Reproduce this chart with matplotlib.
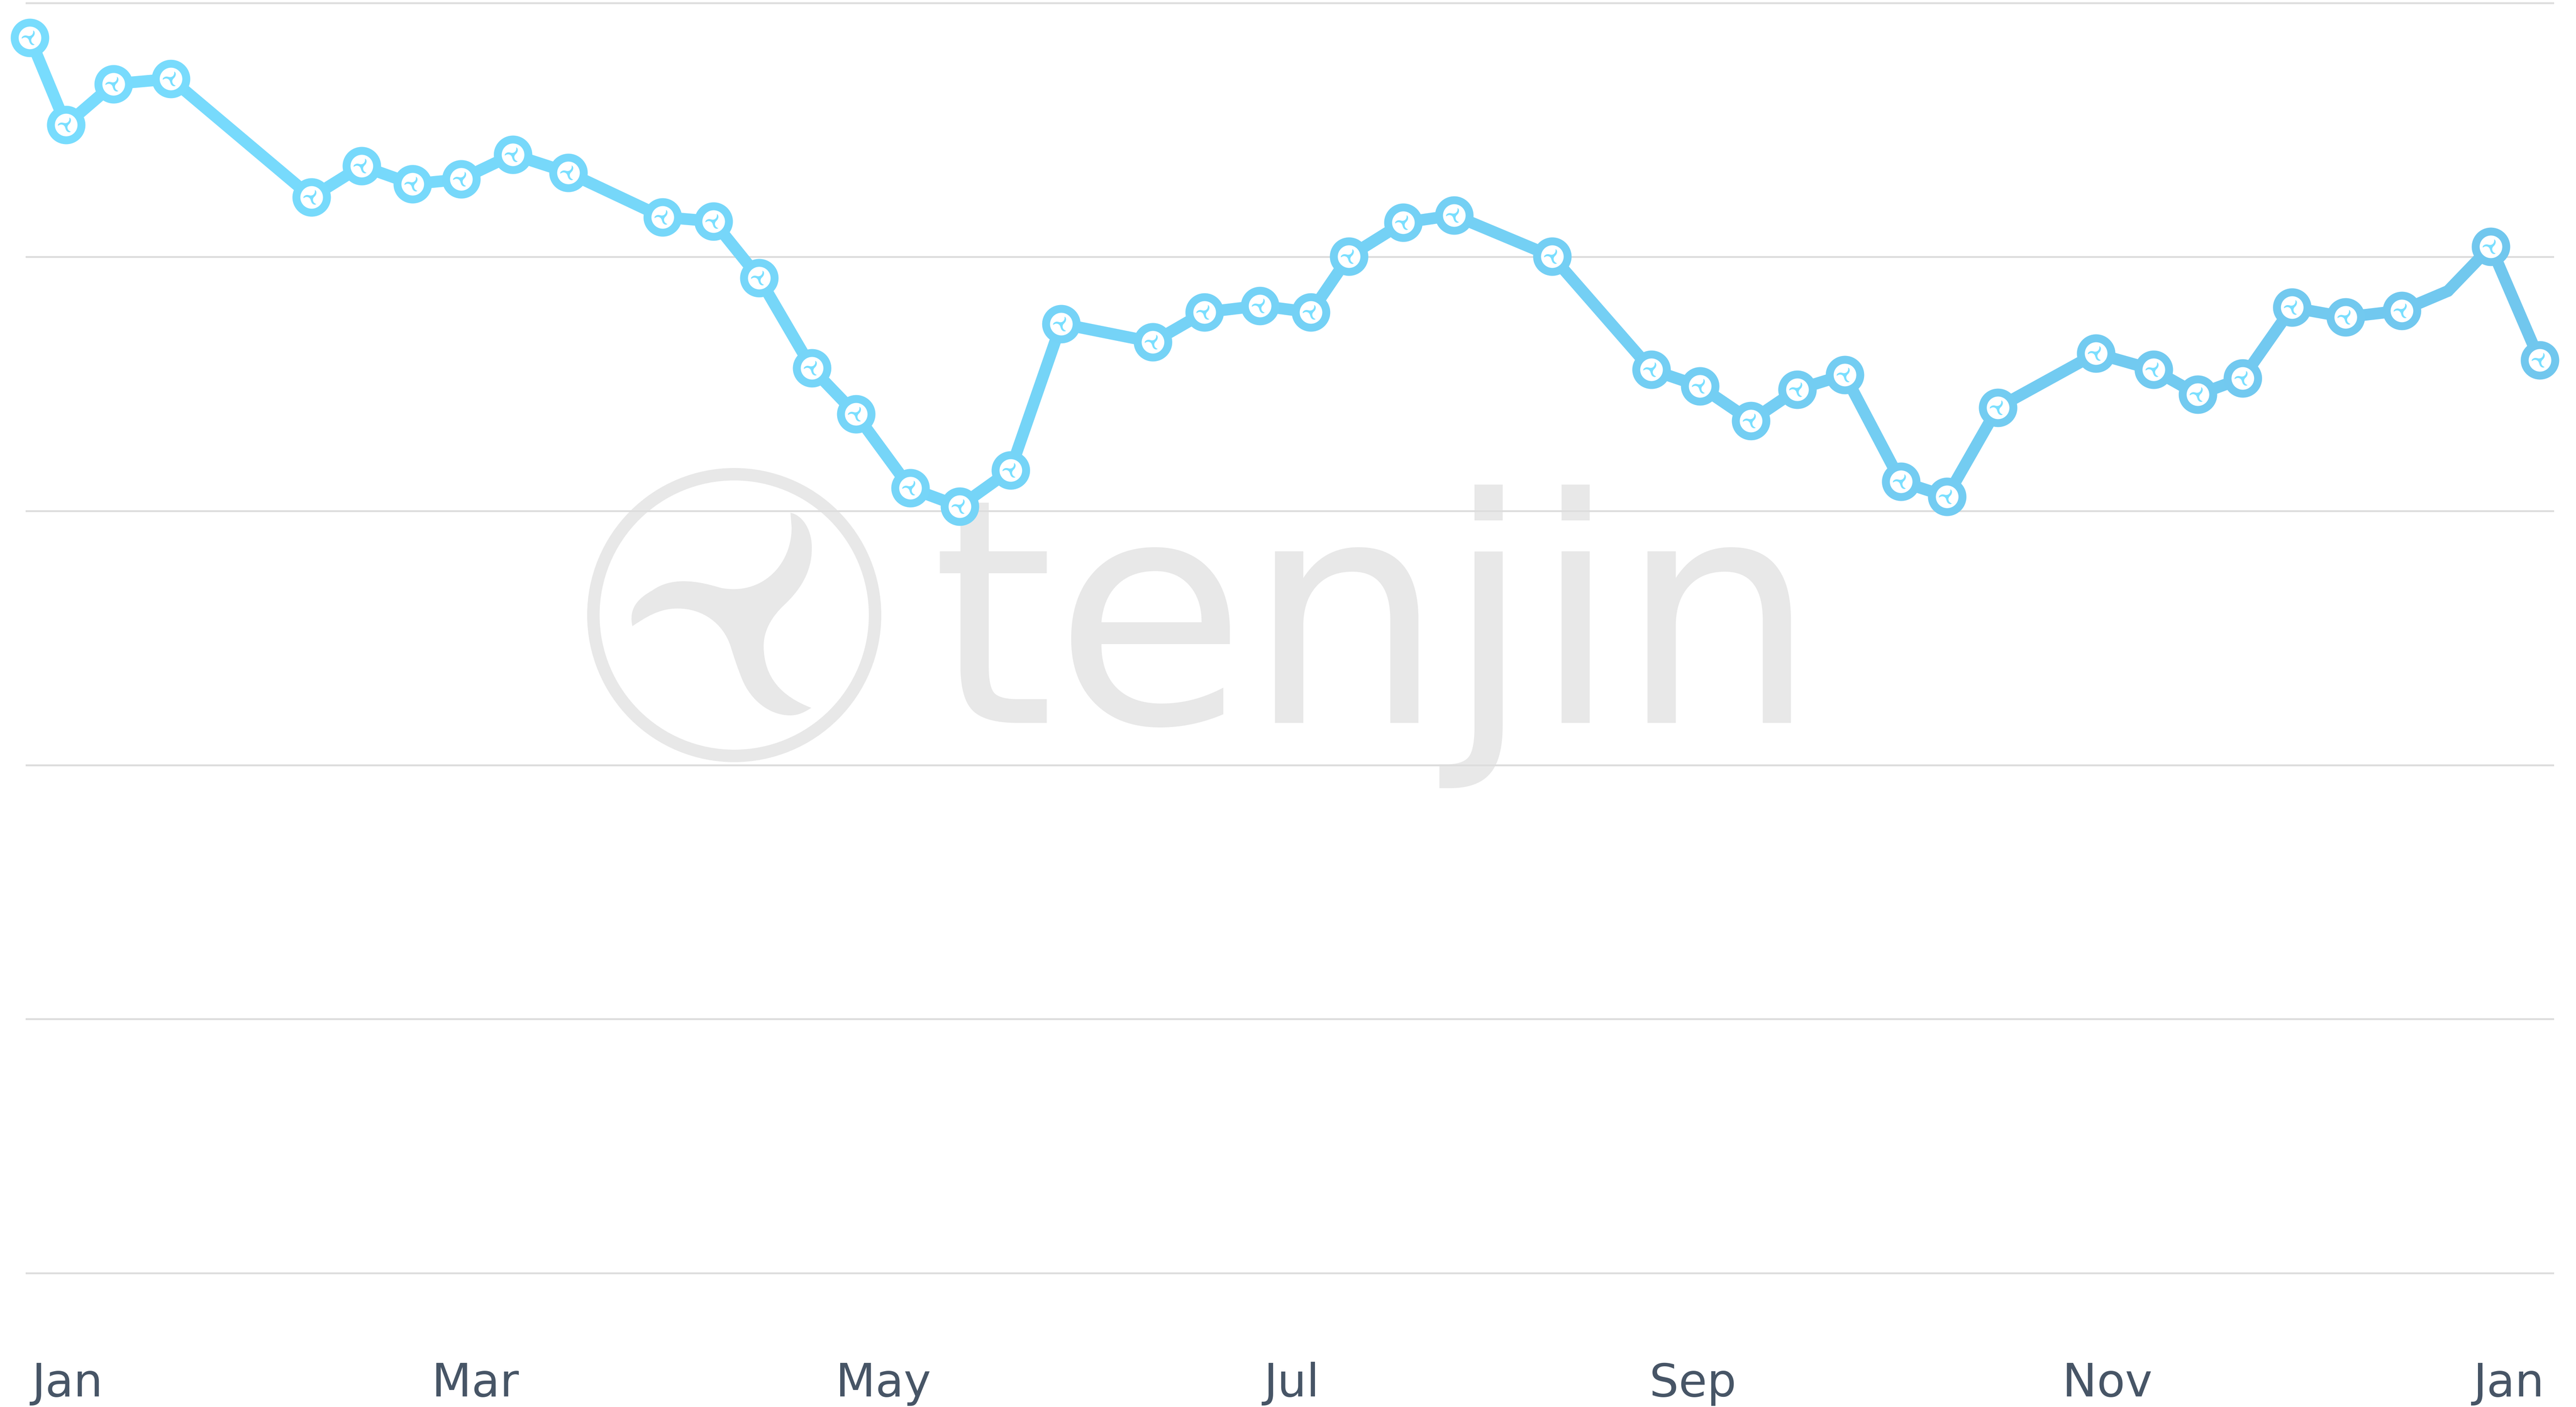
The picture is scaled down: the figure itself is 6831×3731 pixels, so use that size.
import matplotlib
matplotlib.use("Agg")
import matplotlib.pyplot as plt
import numpy as np
from matplotlib.path import Path
from matplotlib.patches import PathPatch, Circle
from matplotlib.transforms import Affine2D
from matplotlib.colors import to_rgb

# ---- data -----
days = [-5.6, -0.2, 6.9, 15.5, 36.5, 44.0, 51.6, 58.9, 66.6, 74.9, 89.0, 96.6, 103.4, 111.3, 117.9,
        126.0, 133.4, 141.0, 148.6, 162.3, 170.0, 178.3, 185.9, 191.6, 199.7, 207.3, 222.0, 236.8,
        244.1, 251.7, 258.6, 265.7, 274.1, 281.0, 288.6, 303.3, 311.9, 318.5, 325.2, 332.6, 340.6,
        349.0, 355.9, 362.3, 369.6]
values = [4.863, 4.520, 4.681, 4.701, 4.235, 4.358, 4.287, 4.306, 4.403, 4.332, 4.157, 4.140, 3.918,
          3.562, 3.381, 3.090, 3.018, 3.161, 3.737, 3.665, 3.782, 3.808, 3.782, 4.002, 4.135, 4.164,
          4.002, 3.556, 3.491, 3.355, 3.478, 3.536, 3.116, 3.057, 3.407, 3.620, 3.556, 3.458, 3.523,
          3.801, 3.763, 3.789, 3.866, 4.041, 3.594]
no_marker = [42]
tick_days = [0, 61, 122, 183, 243, 305, 365]
tick_labels = ["Jan", "Mar", "May", "Jul", "Sep", "Nov", "Jan"]
grid_levels = [0, 1, 2, 3, 4, 5]

W, H = 6832, 3731
DPI = 100
PT = 72 / DPI
fig = plt.figure(figsize=(W / DPI, H / DPI), dpi=DPI, facecolor="white")
L, R, T, B = 70, 6770, 7.7, 3376
ax = fig.add_axes([L / W, 1 - B / H, (R - L) / W, (B - T) / H])
ax.set_xlim(-6.12, 371.6)
ax.set_ylim(0, 5)
ax.patch.set_visible(False)
for s in ax.spines.values():
    s.set_visible(False)

# logo glyph, coordinates in px relative to the logo centre
_raw = [
    (Path.MOVETO, (1111, 178)),
    (Path.CURVE4, (1190, 195)), (Path.CURVE4, (1240, 290)), (Path.CURVE4, (1238, 390)),
    (Path.CURVE4, (1238, 530)), (Path.CURVE4, (1170, 635)), (Path.CURVE4, (1075, 725)),
    (Path.CURVE4, (1000, 795)), (Path.CURVE4, (950, 880)), (Path.CURVE4, (952, 975)),
    (Path.CURVE4, (955, 1160)), (Path.CURVE4, (1060, 1270)), (Path.CURVE4, (1235, 1337)),
    (Path.CURVE4, (1200, 1360)), (Path.CURVE4, (1160, 1382)), (Path.CURVE4, (1110, 1382)),
    (Path.CURVE4, (985, 1382)), (Path.CURVE4, (875, 1290)), (Path.CURVE4, (825, 1170)),
    (Path.CURVE4, (800, 1110)), (Path.CURVE4, (775, 1035)), (Path.CURVE4, (755, 970)),
    (Path.CURVE4, (710, 835)), (Path.CURVE4, (590, 747)), (Path.CURVE4, (440, 747)),
    (Path.CURVE4, (330, 747)), (Path.CURVE4, (250, 800)), (Path.CURVE4, (172, 852)),
    (Path.CURVE4, (150, 750)), (Path.CURVE4, (200, 690)), (Path.CURVE4, (290, 640)),
    (Path.CURVE4, (345, 600)), (Path.CURVE4, (410, 585)), (Path.CURVE4, (475, 585)),
    (Path.CURVE4, (560, 585)), (Path.CURVE4, (630, 605)), (Path.CURVE4, (700, 625)),
    (Path.CURVE4, (940, 670)), (Path.CURVE4, (1118, 490)), (Path.CURVE4, (1118, 265)),
    (Path.LINETO, (1111, 178)),
]
codes = [c for c, _ in _raw]
gv = np.array([p for _, p in _raw], float)
gv = (gv - np.array([777, 786])) / 2.24
gv[:, 1] *= -1  # y up

# watermark (below the axes, so gridlines and the line cover it)
WM = "#E8E8E8"
cx, cy = 1947, 1631
fig.add_artist(Circle((cx, H - cy), 373.5, transform=None, facecolor="none", edgecolor=WM,
                      linewidth=33 * PT, zorder=-2))
logo = PathPatch(Path(gv, codes), transform=Affine2D().translate(cx, H - cy), facecolor=WM,
                 edgecolor="none", zorder=-2)
fig.add_artist(logo)
fig.text(2470 / W, 1 - 1917 / H, "tenjin", fontfamily="DejaVu Sans", fontsize=598,
         color=WM, ha="left", va="baseline", zorder=-2)

# grid
ax.set_yticks(grid_levels)
ax.set_yticklabels([])
ax.tick_params(axis="y", length=0)
ax.grid(axis="y", color="#DDDDDD", linewidth=5 * PT)
ax.grid(axis="x", visible=False)
ax.set_axisbelow(True)
for g in ax.get_ygridlines():
    g.set_clip_on(False)

# x labels
ax.set_xticks(tick_days)
ax.set_xticklabels(tick_labels, fontfamily="DejaVu Sans", fontsize=88, color="#475566")
ax.tick_params(axis="x", length=0, pad=169)

# line with a left-to-right colour gradient
c0, c1 = np.array(to_rgb("#78DCFD")), np.array(to_rgb("#71C7EE"))
def col(d):
    t = (d - days[0]) / (days[-1] - days[0])
    return tuple(c0 + (c1 - c0) * t)

for i in range(len(days) - 1):
    ax.plot(days[i:i + 2], values[i:i + 2], color=col((days[i] + days[i + 1]) / 2),
            linewidth=31 * PT, solid_capstyle="round", solid_joinstyle="round",
            clip_on=False, zorder=3)

glyph_scale = 0.072
mv = gv * glyph_scale + np.array([-2.3, 0.0])
marker_glyph = Path(mv, codes)
glyph_ms = 2 * np.abs(mv).max() * PT
for i, (d, v) in enumerate(zip(days, values)):
    if i in no_marker:
        continue
    ax.plot([d], [v], marker="o", markersize=81 * PT, markeredgewidth=21 * PT,
            markeredgecolor=col(d), markerfacecolor="white", linestyle="none",
            clip_on=False, zorder=4)
    ax.plot([d], [v], marker=marker_glyph, markersize=glyph_ms, markeredgewidth=0,
            markerfacecolor="#7ADFFF", linestyle="none", clip_on=False, zorder=5)

fig.savefig("out.png", dpi=DPI, facecolor="white")
